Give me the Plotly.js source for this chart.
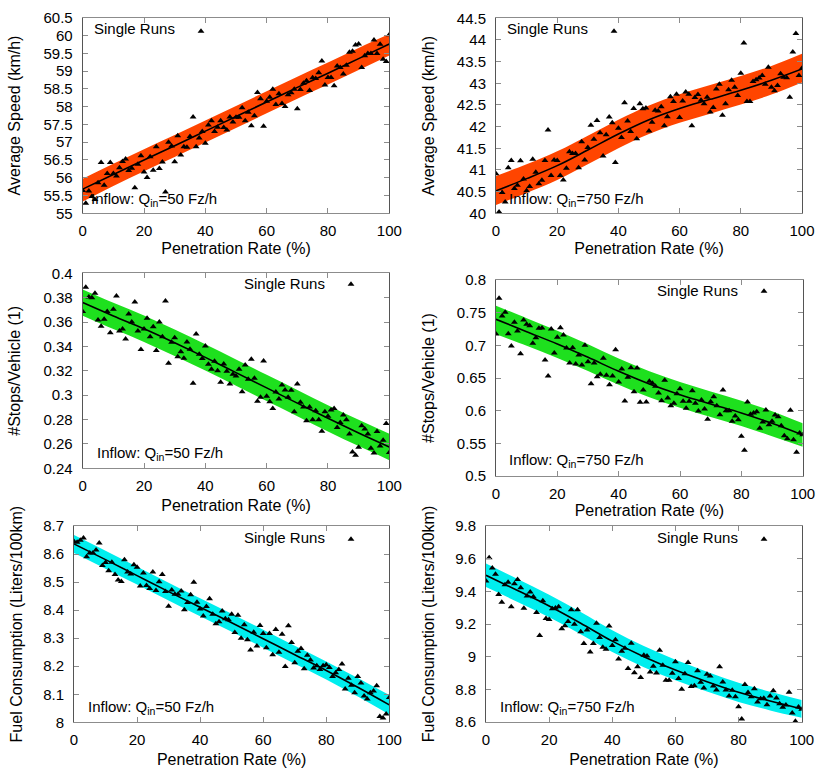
<!DOCTYPE html>
<html>
<head>
<meta charset="utf-8">
<script src="https://cdn.plot.ly/plotly-3.0.1.min.js"></script>
<style>
  body { margin: 0; background: #fff; }
  #plot { width: 830px; height: 771px; }
</style>
</head>
<body>
<div id="plot"></div>
<script>
// penetration rate of the single runs (%)
const pen = [
  0,1,2,3,4,5,6,7,8,9,
  10,11,12,13,14,15,16,17,18,19,
  20,21,22,23,24,25,26,27,28,29,
  30,31,32,33,34,35,36,37,38,39,
  40,41,42,43,44,45,46,47,48,49,
  50,51,52,53,54,55,56,57,58,59,
  60,61,62,63,64,65,66,67,68,69,
  70,71,72,73,74,75,76,77,78,79,
  80,81,82,83,84,85,86,87,88,89,
  90,91,92,93,94,95,96,97,98,99,
  100];
// x positions where the fit curve / band was read
const fitPen = [0,10,20,30,40,50,60,70,80,90,100];

// Average speed, inflow 50 Fz/h
const speed50 = [
  55.64,55.28,55.63,55.47,55.39,55.86,56.43,55.79,56.12,56.43,
  56.12,56.05,56.28,56.46,56.53,56.2,56.27,55.72,56.38,56.62,
  56.16,56.01,56.59,56.21,56.87,56.26,56.44,55.6,57.0,56.89,
  56.45,57.18,56.64,56.87,56.86,57.16,57.71,56.87,57.12,57.3,
  56.97,57.48,57.6,57.3,57.42,57.6,57.41,57.34,57.71,57.57,
  57.7,57.7,57.97,57.6,57.84,57.46,57.74,58.4,58.22,57.45,
  58.15,58.26,58.49,58.06,58.36,58.09,58.0,58.33,58.39,58.49,
  57.94,58.48,58.66,58.73,58.45,58.81,58.79,58.95,59.28,58.61,
  58.82,58.82,58.59,59.14,59.1,58.92,59.16,59.53,59.56,59.73,
  59.76,59.1,59.43,59.49,59.49,59.87,59.49,59.75,59.33,59.27,
  60.02];
const speed50Fit = [55.68,56.09,56.50,56.90,57.31,57.72,58.13,58.54,58.94,59.35,59.76];
const speed50Hi  = [55.97,56.39,56.80,57.20,57.61,58.02,58.43,58.84,59.24,59.65,60.04];
const speed50Lo  = [55.33,55.77,56.18,56.58,56.99,57.40,57.81,58.22,58.62,59.03,59.44];

// Average speed, inflow 750 Fz/h
const speed750 = [
  40.91,40.03,40.48,40.26,41.05,41.22,40.57,40.65,41.21,40.79,
  40.52,40.62,41.25,40.95,40.68,40.76,41.22,41.92,40.87,41.23,
  41.22,40.87,40.77,41.04,41.42,41.38,41.38,41.05,41.65,41.23,
  41.52,42.03,41.71,42.14,41.86,41.32,41.81,42.22,42.09,41.17,
  41.96,41.75,42.55,42.13,41.89,42.42,41.72,42.53,42.41,42.43,
  41.9,42.1,42.38,42.36,42.46,42.02,42.23,42.69,42.58,42.75,
  42.21,42.59,42.8,42.75,42.02,42.67,42.74,42.61,42.53,42.68,
  42.34,42.44,42.87,42.98,42.26,42.53,42.85,43.07,42.91,42.72,
  43.23,43.93,42.58,42.58,43.04,43.08,43.12,43.18,42.98,43.37,
  42.91,42.83,42.95,43.22,43.14,43.13,42.68,43.72,44.15,43.18,
  43.35];
const speed750Fit = [40.52,40.80,41.10,41.46,41.83,42.16,42.42,42.63,42.84,43.07,43.33];
const speed750Hi  = [40.86,41.13,41.43,41.79,42.16,42.49,42.75,42.96,43.17,43.40,43.68];
const speed750Lo  = [40.19,40.47,40.77,41.13,41.50,41.83,42.09,42.30,42.51,42.74,43.02];

// Stops per vehicle, inflow 50 Fz/h
const stops50 = [
  0.3686,0.3885,0.3806,0.38,0.3836,0.3617,0.3565,0.3623,0.3686,0.3513,
  0.3705,0.3814,0.3527,0.3543,0.3461,0.3666,0.3601,0.3765,0.3527,0.3374,
  0.3543,0.3631,0.348,0.3562,0.3366,0.3601,0.348,0.3773,0.3262,0.3434,
  0.3472,0.3316,0.3357,0.3303,0.3437,0.3376,0.3097,0.3502,0.3335,0.33,
  0.3404,0.3253,0.3212,0.3278,0.32,0.3106,0.3256,0.3196,0.3092,0.3171,
  0.3158,0.3212,0.3029,0.3248,0.313,0.3294,0.3139,0.295,0.2983,0.3281,
  0.2991,0.2947,0.289,0.3026,0.2969,0.3084,0.3043,0.2983,0.304,0.2865,
  0.3092,0.2942,0.2903,0.2791,0.2903,0.2799,0.2873,0.2799,0.2704,0.2865,
  0.2827,0.2879,0.289,0.2734,0.2775,0.2838,0.2799,0.2682,0.2534,0.2507,
  0.2572,0.275,0.2723,0.2682,0.2564,0.2526,0.2701,0.2583,0.263,0.2767,
  0.2529];
const stops50Fit = [0.3760,0.3650,0.3545,0.3430,0.3310,0.3185,0.3060,0.2935,0.2810,0.2690,0.2575];
const stops50Hi  = [0.3868,0.3758,0.3653,0.3538,0.3418,0.3293,0.3168,0.3043,0.2918,0.2798,0.2683];
const stops50Lo  = [0.3652,0.3542,0.3437,0.3322,0.3202,0.3077,0.2952,0.2827,0.2702,0.2582,0.2467];

// Stops per vehicle, inflow 750 Fz/h
const stops750 = [
  0.7173,0.7719,0.7449,0.7505,0.7179,0.699,0.7352,0.7219,0.6872,0.7388,
  0.7321,0.7301,0.7031,0.7117,0.726,0.7265,0.6776,0.6531,0.725,0.6883,
  0.7122,0.727,0.7158,0.6959,0.673,0.6964,0.6714,0.6852,0.6699,0.7,
  0.675,0.6413,0.673,0.652,0.6556,0.6801,0.6541,0.6398,0.6531,0.6934,
  0.6439,0.6638,0.6148,0.651,0.6658,0.6291,0.6653,0.6128,0.6316,0.6133,
  0.6449,0.6418,0.6372,0.627,0.6153,0.6464,0.6194,0.6077,0.6112,0.626,
  0.6337,0.6143,0.6036,0.6143,0.6306,0.6112,0.5995,0.6163,0.6026,0.5867,
  0.6138,0.6214,0.6077,0.5939,0.6316,0.6,0.6,0.5837,0.5918,0.5862,
  0.5607,0.5393,0.6133,0.5944,0.5964,0.5985,0.573,0.5827,0.601,0.5786,
  0.5837,0.5934,0.5908,0.577,0.5617,0.5571,0.6005,0.5556,0.5362,0.5658,
  0.5633];
const stops750Fit = [0.7398,0.7209,0.7020,0.6816,0.6602,0.6408,0.6245,0.6102,0.5964,0.5806,0.5628];
const stops750Hi  = [0.7607,0.7415,0.7222,0.7015,0.6798,0.6602,0.6437,0.6292,0.6152,0.5992,0.5806];
const stops750Lo  = [0.7168,0.6993,0.6808,0.6607,0.6396,0.6204,0.6043,0.5902,0.5766,0.5610,0.5449];

// Fuel consumption, inflow 50 Fz/h
const fuel50 = [
  8.645,8.642,8.649,8.657,8.59,8.604,8.604,8.614,8.639,8.559,
  8.57,8.54,8.571,8.527,8.507,8.502,8.58,8.536,8.529,8.562,
  8.553,8.486,8.532,8.488,8.477,8.536,8.47,8.501,8.527,8.466,
  8.414,8.472,8.457,8.457,8.468,8.401,8.427,8.455,8.499,8.428,
  8.404,8.379,8.413,8.441,8.385,8.351,8.359,8.397,8.369,8.366,
  8.385,8.32,8.382,8.3,8.348,8.294,8.258,8.321,8.272,8.345,
  8.317,8.266,8.317,8.241,8.331,8.25,8.314,8.199,8.344,8.285,
  8.212,8.253,8.263,8.191,8.239,8.222,8.194,8.202,8.188,8.202,
  8.205,8.195,8.163,8.177,8.188,8.208,8.119,8.157,8.132,8.105,
  8.163,8.14,8.094,8.083,8.105,8.112,8.13,8.021,8.015,8.03,
  8.088];
const fuel50Fit = [8.636,8.580,8.523,8.466,8.410,8.355,8.298,8.241,8.185,8.125,8.062];
const fuel50Hi  = [8.668,8.612,8.555,8.498,8.442,8.387,8.330,8.273,8.217,8.158,8.097];
const fuel50Lo  = [8.604,8.548,8.491,8.434,8.378,8.323,8.266,8.209,8.153,8.092,8.028];

// Fuel consumption, inflow 750 Fz/h
const fuel750 = [
  9.463,9.606,9.543,9.504,9.38,9.333,9.441,9.455,9.306,9.447,
  9.473,9.422,9.296,9.371,9.396,9.367,9.271,9.129,9.343,9.233,
  9.227,9.294,9.298,9.306,9.171,9.19,9.216,9.288,9.198,9.288,
  9.153,9.08,9.163,9.029,9.08,9.204,9.118,9.057,9.045,9.188,
  9.069,9.104,8.986,9.033,9.051,8.927,9.082,8.902,8.939,8.873,
  9.008,9.004,8.906,8.941,8.9,9.039,8.947,8.855,8.855,8.898,
  8.969,8.867,8.8,8.896,8.965,8.818,8.822,8.914,8.843,8.808,
  8.892,8.882,8.82,8.796,8.939,8.845,8.796,8.759,8.794,8.755,
  8.694,8.618,8.829,8.78,8.755,8.804,8.722,8.743,8.745,8.706,
  8.759,8.792,8.747,8.712,8.69,8.704,8.782,8.655,8.604,8.692,
  8.678];
const fuel750Fit = [9.498,9.405,9.310,9.205,9.095,9.000,8.918,8.847,8.782,8.728,8.680];
const fuel750Hi  = [9.570,9.475,9.379,9.273,9.162,9.065,8.981,8.908,8.841,8.785,8.734];
const fuel750Lo  = [9.426,9.335,9.241,9.137,9.028,8.935,8.855,8.786,8.723,8.671,8.626];

const yTitles = ["Average Speed (km/h)", "#Stops/Vehicle (1)", "Fuel Consumption (Liters/100km)"];
const inflowLabels = ["Inflow: Q<sub>in</sub>=50 Fz/h", "Inflow: Q<sub>in</sub>=750 Fz/h"];
const xTitle = "Penetration Rate (%)";
const legendText = "Single Runs";

const W = 830, H = 771;
const FONT = "Liberation Sans, Arial, Helvetica, sans-serif";

// one entry per panel, row by row
const panels = [
  {y: speed50,  fit: speed50Fit,  hi: speed50Hi,  lo: speed50Lo,  color: "#ff4500", range: [55, 60.5],  dtick: 0.5,  title: yTitles[0], inflow: inflowLabels[0]},
  {y: speed750, fit: speed750Fit, hi: speed750Hi, lo: speed750Lo, color: "#ff4500", range: [40, 44.5],  dtick: 0.5,  title: yTitles[0], inflow: inflowLabels[1]},
  {y: stops50,  fit: stops50Fit,  hi: stops50Hi,  lo: stops50Lo,  color: "#1ee01e", range: [0.24, 0.4], dtick: 0.02, title: yTitles[1], inflow: inflowLabels[0]},
  {y: stops750, fit: stops750Fit, hi: stops750Hi, lo: stops750Lo, color: "#1ee01e", range: [0.5, 0.8],  dtick: 0.05, title: yTitles[1], inflow: inflowLabels[1]},
  {y: fuel50,   fit: fuel50Fit,   hi: fuel50Hi,   lo: fuel50Lo,   color: "#00eeee", range: [8, 8.7],    dtick: 0.1,  title: yTitles[2], inflow: inflowLabels[0]},
  {y: fuel750,  fit: fuel750Fit,  hi: fuel750Hi,  lo: fuel750Lo,  color: "#00eeee", range: [8.6, 9.8],  dtick: 0.2,  title: yTitles[2], inflow: inflowLabels[1]},
];

// plot boxes in pixels: left, top, right, bottom
const boxes = [
  [82.7, 17.7, 389.3, 213.3],
  [496, 18.3, 802, 213.3],
  [82.7, 273.3, 389.3, 468.3],
  [496, 280, 802.7, 476],
  [74, 526, 389.3, 722.3],
  [486, 526, 801.7, 722],
];
// label positions in pixels
const singleRunsText = [[92, 29], [505, 29], [242, 283], [655, 290], [242, 537], [655, 537]];
const singleRunsMark = [[201, 29], [614, 29], [351, 282], [764, 289], [351, 537], [764, 537]];
const inflowPos = [[89, 200], [507, 200], [95, 453], [507, 460], [86, 707], [498, 707]];
const xTitleStandoff = [4, 4, 6, 3, 6, 6];
const yTitleStandoff = [18, 18, 18, 18, 16, 16];

const data = [];
const layout = {
  width: W, height: H,
  margin: {l: 0, r: 0, t: 0, b: 0},
  paper_bgcolor: "#fff", plot_bgcolor: "#fff",
  font: {family: FONT, size: 15, color: "#000"},
  showlegend: true,
  annotations: [],
};

panels.forEach((p, i) => {
  const n = i + 1;
  const xa = n === 1 ? "x" : "x" + n;
  const ya = n === 1 ? "y" : "y" + n;
  const lg = n === 1 ? "legend" : "legend" + n;
  const b = boxes[i];

  // band
  data.push({x: fitPen, y: p.lo, xaxis: xa, yaxis: ya, mode: "lines",
    line: {width: 0, color: p.color, shape: "spline"}, showlegend: false, hoverinfo: "skip"});
  data.push({x: fitPen, y: p.hi, xaxis: xa, yaxis: ya, mode: "lines", fill: "tonexty",
    fillcolor: p.color, line: {width: 0, color: p.color, shape: "spline"}, showlegend: false, hoverinfo: "skip"});
  // fit
  data.push({x: fitPen, y: p.fit, xaxis: xa, yaxis: ya, mode: "lines",
    line: {width: 1.6, color: "#000", shape: "spline"}, showlegend: false});
  // single runs
  data.push({x: pen, y: p.y, xaxis: xa, yaxis: ya, mode: "markers", name: " ", legend: lg,
    marker: {symbol: "triangle-up", size: 6, color: "#000"}, showlegend: true});

  const axCommon = {
    showline: true, mirror: "ticks", linewidth: 1,
    ticks: "inside", ticklen: 5, tickwidth: 1,
    showgrid: false, zeroline: false, fixedrange: true,
    tickfont: {family: FONT, size: 15, color: "#000"},
  };
  layout["xaxis" + (n === 1 ? "" : n)] = Object.assign({}, axCommon, {
    anchor: ya, domain: [b[0] / W, b[2] / W],
    range: [0, 100], dtick: 20, tick0: 0,
    linecolor: "#8c8c8c", tickcolor: "#8c8c8c",
    ticklabelstandoff: 4,
    title: {text: xTitle, font: {family: FONT, size: 16}, standoff: xTitleStandoff[i]},
  });
  layout["yaxis" + (n === 1 ? "" : n)] = Object.assign({}, axCommon, {
    anchor: xa, domain: [1 - b[3] / H, 1 - b[1] / H],
    range: p.range, dtick: p.dtick, tick0: p.range[0],
    linecolor: "#555", tickcolor: "#8c8c8c",
    ticklabelstandoff: 6,
    title: {text: p.title, font: {family: FONT, size: 16}, standoff: yTitleStandoff[i]},
  });

  const m = singleRunsMark[i];
  layout[lg] = {
    x: (m[0] - 20) / W, y: 1 - (m[1] - 14) / H, xanchor: "left", yanchor: "top",
    bgcolor: "rgba(0,0,0,0)", borderwidth: 0, font: {family: FONT, size: 15},
  };
  const t = singleRunsText[i];
  layout.annotations.push({xref: "paper", yref: "paper", x: t[0] / W, y: 1 - t[1] / H,
    xanchor: "left", yanchor: "middle", showarrow: false, text: legendText,
    font: {family: FONT, size: 15, color: "#000"}});
  const q = inflowPos[i];
  layout.annotations.push({xref: "paper", yref: "paper", x: q[0] / W, y: 1 - q[1] / H,
    xanchor: "left", yanchor: "middle", showarrow: false, text: p.inflow,
    font: {family: FONT, size: 15, color: "#000"}});
});

Plotly.newPlot("plot", data, layout, {displayModeBar: false, staticPlot: true});
</script>
</body>
</html>
